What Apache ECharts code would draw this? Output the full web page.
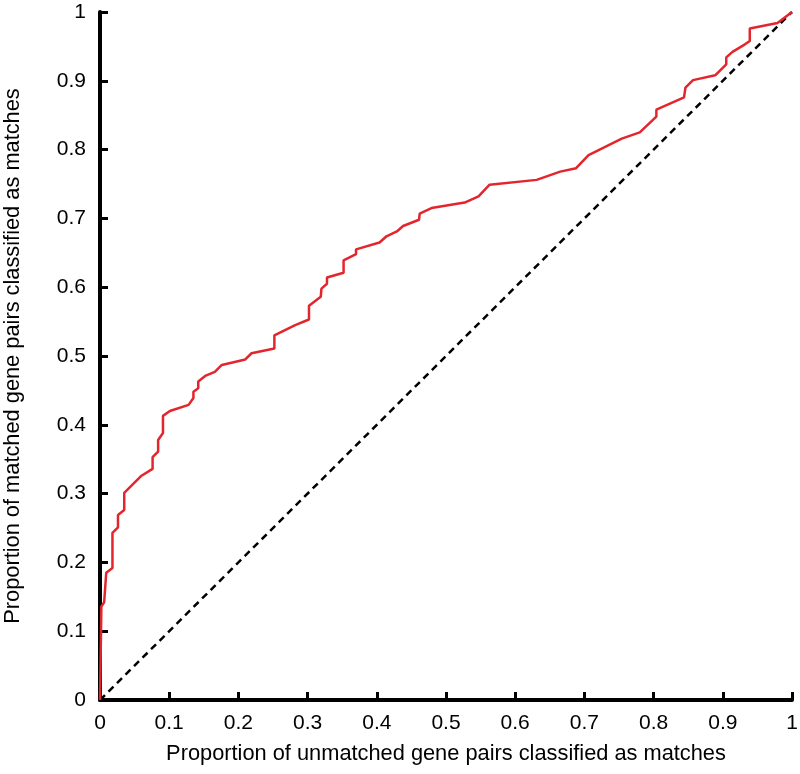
<!DOCTYPE html>
<html>
<head>
<meta charset="utf-8">
<script src="https://cdn.jsdelivr.net/npm/echarts@6/dist/echarts.min.js"></script>
<style>
  html, body { margin: 0; padding: 0; background: #fff; }
  #chart { width: 800px; height: 774px; }
</style>
</head>
<body>
<div id="chart"></div>
<script>
// ROC curve points
const fprValues = [0, 0.002, 0.006, 0.009, 0.018, 0.018, 0.026, 0.026, 0.035, 0.035,
  0.060, 0.076, 0.076, 0.084, 0.084, 0.091, 0.091, 0.101, 0.128, 0.135,
  0.135, 0.142, 0.142, 0.152, 0.166, 0.176, 0.210, 0.219, 0.252, 0.252,
  0.282, 0.302, 0.302, 0.319, 0.320, 0.328, 0.328, 0.352, 0.352, 0.370,
  0.370, 0.404, 0.414, 0.429, 0.438, 0.461, 0.462, 0.479, 0.527, 0.547,
  0.563, 0.631, 0.665, 0.688, 0.706, 0.754, 0.780, 0.804, 0.804, 0.844,
  0.846, 0.857, 0.889, 0.905, 0.905, 0.914, 0.932, 0.939, 0.939, 0.979, 1.0]
const tprValues = [0, 0.136, 0.142, 0.185, 0.192, 0.243, 0.251, 0.269, 0.276, 0.301,
  0.326, 0.336, 0.353, 0.361, 0.378, 0.388, 0.413, 0.420, 0.429, 0.439,
  0.448, 0.453, 0.463, 0.471, 0.477, 0.487, 0.495, 0.504, 0.511, 0.530,
  0.545, 0.553, 0.573, 0.586, 0.598, 0.605, 0.614, 0.621, 0.639, 0.648,
  0.655, 0.665, 0.674, 0.681, 0.689, 0.698, 0.707, 0.715, 0.723, 0.732,
  0.749, 0.756, 0.768, 0.773, 0.792, 0.816, 0.825, 0.848, 0.858, 0.876,
  0.890, 0.901, 0.908, 0.924, 0.934, 0.942, 0.953, 0.958, 0.976, 0.984, 1.0]
// chance line
const diagX = [0, 1]
const diagY = [0, 1]

const font = 'Liberation Sans, Arial, Helvetica, sans-serif'

const axisCommon = {
  type: 'value',
  min: 0,
  max: 1,
  interval: 0.1,
  nameLocation: 'middle',
  nameTextStyle: { fontFamily: font, fontSize: 21.8, color: '#000' },
  axisLine: { show: true, lineStyle: { color: '#000', width: 4 } },
  axisTick: { show: true, inside: true, length: 8, lineStyle: { color: '#000', width: 3 } },
  axisLabel: { fontFamily: font, fontSize: 21, color: '#000' },
  splitLine: { show: false }
}

var myChart = echarts.init(document.getElementById('chart'))
myChart.setOption({
  animation: false,
  backgroundColor: '#fff',
  grid: { left: 100, right: 8, top: 12, bottom: 74, outerBoundsMode: 'none' },
  xAxis: Object.assign({}, axisCommon, {
    name: 'Proportion of unmatched gene pairs classified as matches',
    nameGap: 43,
    axisLabel: Object.assign({}, axisCommon.axisLabel, { margin: 13 })
  }),
  yAxis: Object.assign({}, axisCommon, {
    name: 'Proportion of matched gene pairs classified as matches',
    nameGap: 76,
    axisLabel: Object.assign({}, axisCommon.axisLabel, { margin: 14 })
  }),
  series: [
    {
      type: 'line',
      data: diagX.map((x, i) => [x, diagY[i]]),
      showSymbol: false,
      lineStyle: { color: '#000', width: 2.5, type: [7, 5] },
      z: 1
    },
    {
      type: 'line',
      data: fprValues.map((x, i) => [x, tprValues[i]]),
      showSymbol: false,
      lineStyle: { color: '#e3262d', width: 2.5 },
      z: 2
    }
  ]
})
</script>
</body>
</html>
